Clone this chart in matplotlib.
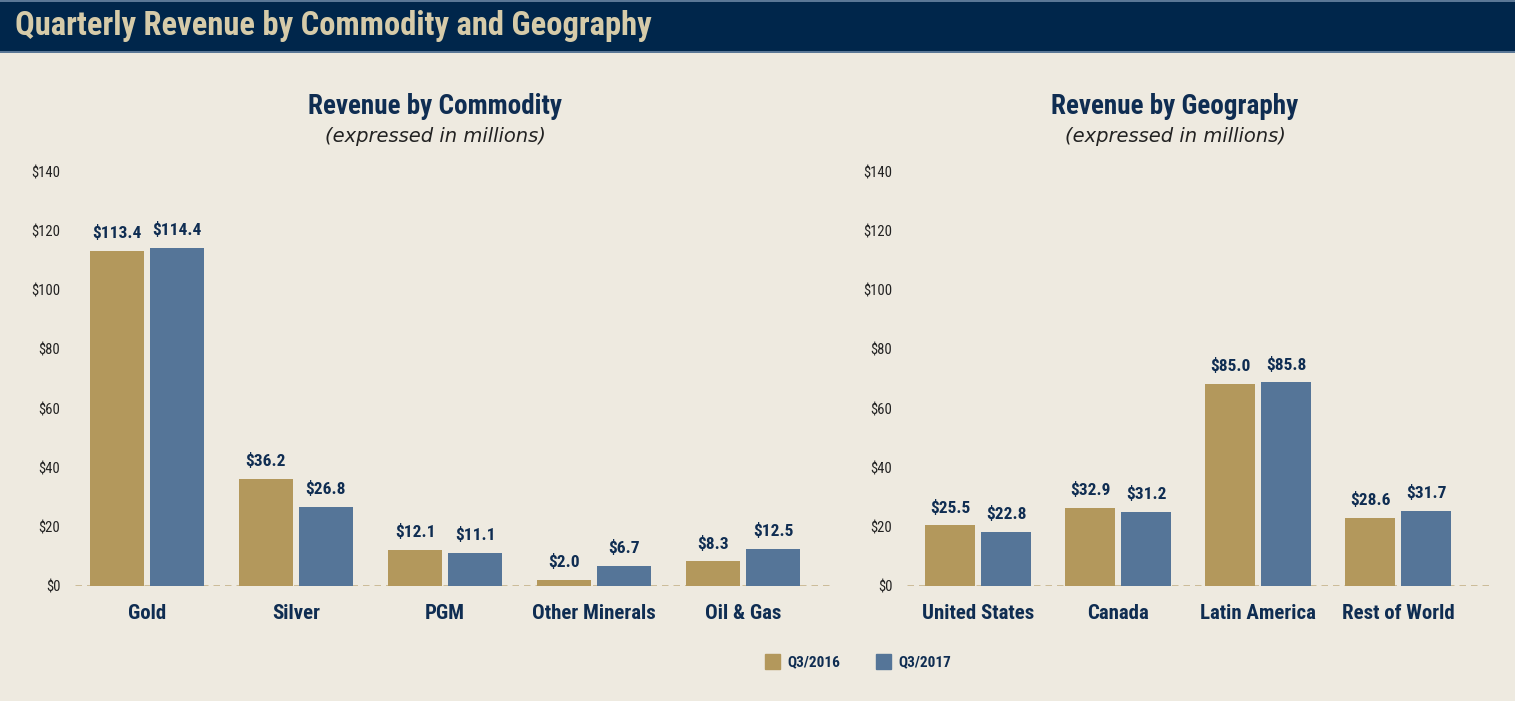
import matplotlib
matplotlib.use('Agg')
import matplotlib.pyplot as plt
from matplotlib.patches import Rectangle
import numpy as np

# данные
commodities = ['Gold', 'Silver', 'PGM', 'Other Minerals', 'Oil & Gas']
comm_2016 = [113.4, 36.2, 12.1, 2.0, 8.3]
comm_2017 = [114.4, 26.8, 11.1, 6.7, 12.5]

regions = ['United States', 'Canada', 'Latin America', 'Rest of World']
geo_2016 = [25.5, 32.9, 85.0, 28.6]
geo_2017 = [22.8, 31.2, 85.8, 31.7]
# высоты столбцов, как они нарисованы на исходной картинке
geo_bar_2016 = [20.5, 26.4, 68.3, 23.0]
geo_bar_2017 = [18.3, 25.0, 68.9, 25.5]

yticks = [0, 20, 40, 60, 80, 100, 120, 140]
series = ['Q3/2016', 'Q3/2017']

BG = '#eeeae0'
NAVY = '#0f2d52'
GOLD = '#b3985c'
BLUE = '#557598'
BANNER = '#00264b'
FAM = ['Roboto Condensed', 'DejaVu Sans']
COND = dict(family=FAM, fontstretch='condensed')

W, H = 1515, 701
fig = plt.figure(figsize=(W / 100, H / 100), dpi=100, facecolor=BG)


def px_axes(x0, x1, y_top, y_bot):
    return fig.add_axes([x0 / W, 1 - y_bot / H, (x1 - x0) / W, (y_bot - y_top) / H])


# шапка
banner = fig.add_axes([0, 1 - 53 / H, 1, 53 / H])
banner.set_axis_off()
banner.add_patch(Rectangle((0, 0), 1, 1, color=BANNER, transform=banner.transAxes))
banner.axhline(0.985, color='#6d88a6', lw=1.2)
banner.axhline(0.015, color='#6d88a6', lw=1.2)
banner.text(15 / W, 0.5, 'Quarterly Revenue by Commodity and Geography',
            transform=banner.transAxes, ha='left', va='center',
            fontsize=23.5, fontweight='bold', color='#d6cba9', **COND)


def draw_panel(ax, cats, b16, b17, lab16, lab17, bar_w, gap, xlim):
    ax.set_facecolor(BG)
    x = np.arange(len(cats))
    off = bar_w / 2 + gap / 2
    ax.bar(x - off, b16, width=bar_w, color=GOLD, zorder=2)
    ax.bar(x + off, b17, width=bar_w, color=BLUE, zorder=2)
    for xs, hs, vals in [(x - off, b16, lab16), (x + off, b17, lab17)]:
        for xi, h, v in zip(xs, hs, vals):
            ax.annotate(f'${v:.1f}', (xi, h), xytext=(0, 7), textcoords='offset points',
                        ha='center', va='bottom', fontsize=12.5, fontweight='bold',
                        color=NAVY, **COND)
    ax.axhline(0, color='#c2ad82', lw=1.8, ls=(0, (2.6, 2.0)), zorder=1)
    ax.set_xlim(*xlim)
    ax.set_ylim(0, 140)
    ax.set_yticks(yticks)
    ax.set_yticklabels([f'${t}' for t in yticks], fontsize=10.5, color='#222222', **COND)
    ax.set_xticks(x)
    ax.set_xticklabels(cats, fontsize=15, fontweight='bold', color=NAVY, **COND)
    ax.tick_params(axis='y', length=0, pad=10.5)
    ax.tick_params(axis='x', length=0, pad=13)
    for s in ax.spines.values():
        s.set_visible(False)


# левая панель: центры групп 147 + 149*i
ax1 = px_axes(75, 833, 172, 586)
draw_panel(ax1, commodities, comm_2016, comm_2017, comm_2016, comm_2017,
           54 / 149, 6 / 149, ((75 - 147) / 149, (833 - 147) / 149))

# правая панель: центры групп 978 + 140*i
ax2 = px_axes(907, 1490, 172, 586)
draw_panel(ax2, regions, geo_bar_2016, geo_bar_2017, geo_2016, geo_2017,
           50 / 140, 6 / 140, ((907 - 978) / 140, (1490 - 978) / 140))

# заголовки панелей
for cx, title in [(435, 'Revenue by Commodity'), (1175, 'Revenue by Geography')]:
    fig.text(cx / W, 1 - 106 / H, title, ha='center', va='center',
             fontsize=19.5, fontweight='bold', color=NAVY, **COND)
    fig.text(cx / W, 1 - 137 / H, '(expressed in millions)', ha='center', va='center',
             fontsize=14, style='italic', color='#222222', family='DejaVu Sans')

# легенда
for x0, col, lab in [(765, GOLD, series[0]), (876, BLUE, series[1])]:
    fig.patches.append(Rectangle((x0 / W, 1 - 669 / H), 15 / W, 15 / H,
                                 transform=fig.transFigure, color=col))
    fig.text((x0 + 22) / W, 1 - 662 / H, lab, ha='left', va='center',
             fontsize=11, fontweight='bold', color=NAVY, **COND)

plt.savefig('out.png', dpi=100, facecolor=BG)
